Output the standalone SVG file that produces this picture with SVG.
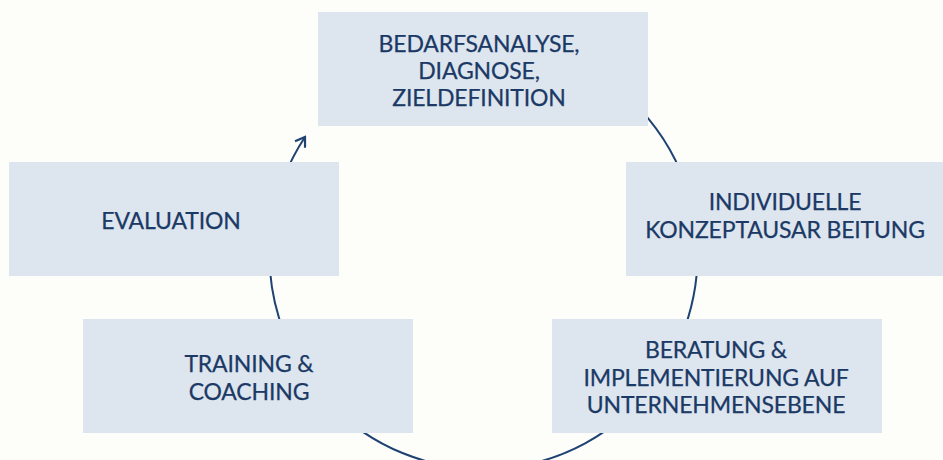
<svg xmlns="http://www.w3.org/2000/svg" width="943" height="460" viewBox="0 0 943 460">
<style>
.bg{fill:#fdfdfa}
.box{fill:#dde5ef}
.lbl{font-family:Lato,"Noto Sans",sans-serif;font-size:23px;fill:#1b3965;stroke:#1b3965;stroke-width:0.25;text-anchor:middle;letter-spacing:-0.15px}
.cyc{fill:none;stroke:#1e4272;stroke-width:2}
</style>
<defs>
<marker id="ah" viewBox="0 0 14 14" refX="12" refY="7" markerWidth="14" markerHeight="14" markerUnits="userSpaceOnUse" orient="auto">
<path d="M3,1 L12,7 L3,13" fill="none" stroke="#1e4272" stroke-width="2.2"/>
</marker>
</defs>
<rect class="bg" width="943" height="460"/>
<g id="connectors">
<path class="cyc" d="M483,41 A214,214 0 1 1 305,137" marker-end="url(#ah)"/>
</g>
<g id="n1">
<rect class="box" x="318" y="12" width="330" height="114"/>
<text class="lbl" x="479" y="52">BEDARFSANALYSE,</text>
<text class="lbl" x="479" y="79">DIAGNOSE,</text>
<text class="lbl" x="479" y="106">ZIELDEFINITION</text>
</g>
<g id="n2">
<rect class="box" x="626" y="162" width="330" height="114"/>
<text class="lbl" x="785" y="210">INDIVIDUELLE</text>
<text class="lbl" x="785" y="238">KONZEPTAUSAR BEITUNG</text>
</g>
<g id="n3">
<rect class="box" x="552" y="319" width="330" height="114"/>
<text class="lbl" x="716" y="358">BERATUNG &amp;</text>
<text class="lbl" x="716" y="386">IMPLEMENTIERUNG AUF</text>
<text class="lbl" x="716" y="413">UNTERNEHMENSEBENE</text>
</g>
<g id="n4">
<rect class="box" x="83" y="319" width="330" height="114"/>
<text class="lbl" x="249" y="372">TRAINING &amp;</text>
<text class="lbl" x="249" y="400">COACHING</text>
</g>
<g id="n5">
<rect class="box" x="9" y="162" width="330" height="114"/>
<text class="lbl" x="171" y="229">EVALUATION</text>
</g>
</svg>
